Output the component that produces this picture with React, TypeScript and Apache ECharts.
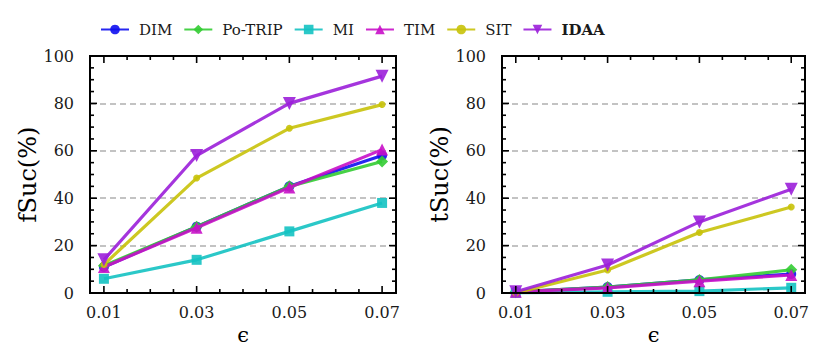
import React, { useEffect, useRef } from "react";
import * as echarts from "echarts";

const methods = ["DIM", "Po-TRIP", "MI", "TIM", "SIT", "IDAA"];
const epsilons = [0.01, 0.03, 0.05, 0.07];
const xMajorTicks = [0.01, 0.03, 0.05, 0.07];
const xMinorTicks = [0.015, 0.02, 0.025, 0.035, 0.04, 0.045, 0.055, 0.06, 0.065];
const yMajorTicks = [0, 20, 40, 60, 80, 100];
const yMinorTicks = [5, 10, 15, 25, 30, 35, 45, 50, 55, 65, 70, 75, 85, 90, 95];
const X_MIN = 0.007;
const X_MAX = 0.073;
const Y_MIN = 0;
const Y_MAX = 100;

const fSucDIM = [11, 28, 45, 58];
const fSucPoTRIP = [11.5, 28, 45, 55.5];
const fSucMI = [6, 14, 26, 38];
const fSucTIM = [11, 27.5, 44.5, 60.5];
const fSucSIT = [12, 48.5, 69.5, 79.5];
const fSucIDAA = [14, 58, 80, 91.5];

const tSucDIM = [0.5, 2.5, 5.5, 8];
const tSucPoTRIP = [0.5, 2.5, 5.5, 9.8];
const tSucMI = [0, 0.5, 0.8, 2.2];
const tSucTIM = [0.5, 2.2, 5, 7.6];
const tSucSIT = [0, 9.7, 25.5, 36.3];
const tSucIDAA = [0.5, 11.8, 30, 43.8];

const fSuc = [fSucDIM, fSucPoTRIP, fSucMI, fSucTIM, fSucSIT, fSucIDAA];
const tSuc = [tSucDIM, tSucPoTRIP, tSucMI, tSucTIM, tSucSIT, tSucIDAA];

const colors = ["#1010f0", "#33cc33", "#14c2c2", "#c80fc8", "#c8c20a", "#9b1fd9"];
const symbols = ["circle", "diamond", "rect", "triangle", "circle", "triangle"];
const symbolSizes = [10, 12, 10, 12, 7, 13];
const symbolRotates = [0, 0, 0, 0, 0, 180];

const FONT = "DejaVu Serif";
const TICK_W = 1.6;

function frameRenderItem(_params: any, api: any) {
  const children: any[] = [];
  const tl = api.coord([X_MIN, Y_MAX]);
  const br = api.coord([X_MAX, Y_MIN]);
  const fill = { fill: "#000" };
  const addX = (v: number, len: number) => {
    const x = api.coord([v, Y_MIN])[0];
    children.push({ type: "rect", shape: { x: x - TICK_W / 2, y: br[1] - len, width: TICK_W, height: len }, style: fill });
    children.push({ type: "rect", shape: { x: x - TICK_W / 2, y: tl[1], width: TICK_W, height: len }, style: fill });
  };
  const addY = (v: number, len: number) => {
    const y = api.coord([X_MIN, v])[1];
    children.push({ type: "rect", shape: { x: tl[0], y: y - TICK_W / 2, width: len, height: TICK_W }, style: fill });
    children.push({ type: "rect", shape: { x: br[0] - len, y: y - TICK_W / 2, width: len, height: TICK_W }, style: fill });
  };
  xMajorTicks.forEach((v) => addX(v, 7));
  xMinorTicks.forEach((v) => addX(v, 4));
  yMajorTicks.forEach((v) => addY(v, 7));
  yMinorTicks.forEach((v) => addY(v, 4));
  children.push({
    type: "rect",
    shape: { x: tl[0], y: tl[1], width: br[0] - tl[0], height: br[1] - tl[1] },
    style: { fill: "none", stroke: "#000", lineWidth: 2 },
  });
  return { type: "group", children };
}

export default function App() {
  const ref = useRef<HTMLDivElement>(null);
  useEffect(() => {
    if (!ref.current) return;
    const chart = echarts.init(ref.current, null, { renderer: "svg" });
    const grids = [
      { left: 90, top: 56, width: 306, height: 237 },
      { left: 502, top: 56, width: 303, height: 237 },
    ];
    const xAxes: any[] = [];
    const yAxes: any[] = [];
    grids.forEach((_, gi) => {
      xAxes.push({
        type: "value",
        gridIndex: gi,
        min: X_MIN,
        max: X_MAX,
        splitLine: { show: false },
        position: "bottom",
        name: "ϵ",
        nameLocation: "middle",
        nameGap: 30,
        nameTextStyle: { fontFamily: FONT, fontSize: 21, color: "#000" },
        axisLine: { show: false, onZero: false },
        axisTick: { show: false },
        axisLabel: {
          show: true,
          customValues: xMajorTicks,
          formatter: (v: number) => v.toFixed(2),
          fontFamily: FONT,
          fontSize: 16,
          color: "#1a1a1a",
          margin: 11,
        },
      });
      yAxes.push({
        type: "value",
        gridIndex: gi,
        min: Y_MIN,
        max: Y_MAX,
        interval: 20,
        position: "left",
        axisLine: { show: false, onZero: false },
        axisTick: { show: false },
        name: gi === 0 ? "fSuc(%)" : "tSuc(%)",
        nameLocation: "middle",
        nameGap: 47,
        nameTextStyle: { fontFamily: FONT, fontSize: 24, color: "#000" },
        splitLine: { show: true, lineStyle: { color: "#b0b0b0", width: 1.5, type: [6, 4] } },
        axisLabel: { show: true, fontFamily: FONT, fontSize: 16, color: "#1a1a1a", margin: 16 },
      });
    });

    const series: any[] = [];
    [fSuc, tSuc].forEach((dataset, gi) => {
      series.push({
        type: "custom",
        name: "frame" + gi,
        xAxisIndex: gi,
        yAxisIndex: gi,
        data: [[X_MIN, Y_MIN]],
        renderItem: frameRenderItem,
        clip: false,
        silent: true,
        z: 20,
      });
      methods.forEach((name, i) => {
        series.push({
          type: "line",
          name,
          xAxisIndex: gi,
          yAxisIndex: gi,
          data: epsilons.map((e, k) => [e, dataset[i][k]]),
          symbol: symbols[i],
          symbolSize: symbolSizes[i],
          symbolRotate: symbolRotates[i],
          showAllSymbol: true,
          lineStyle: { color: colors[i], width: 3.2, opacity: 0.9 },
          itemStyle: { color: colors[i], opacity: 0.9 },
          z: 3 + i,
        });
      });
    });

    chart.setOption({
      animation: false,
      legend: {
        left: 95,
        top: 17,
        itemWidth: 28,
        itemHeight: 12,
        itemGap: 11,
        data: methods.map((m) => ({
          name: m,
          textStyle: m === "IDAA" ? { fontWeight: "bold" } : undefined,
        })),
        textStyle: { fontFamily: FONT, fontSize: 15, color: "#1a1a1a", padding: [0, 0, 0, 5] },
      },
      grid: grids,
      xAxis: xAxes,
      yAxis: yAxes,
      series,
    });
    return () => chart.dispose();
  }, []);
  return <div ref={ref} style={{ width: 830, height: 362, marginLeft: -8, marginTop: -8 }} />;
}
